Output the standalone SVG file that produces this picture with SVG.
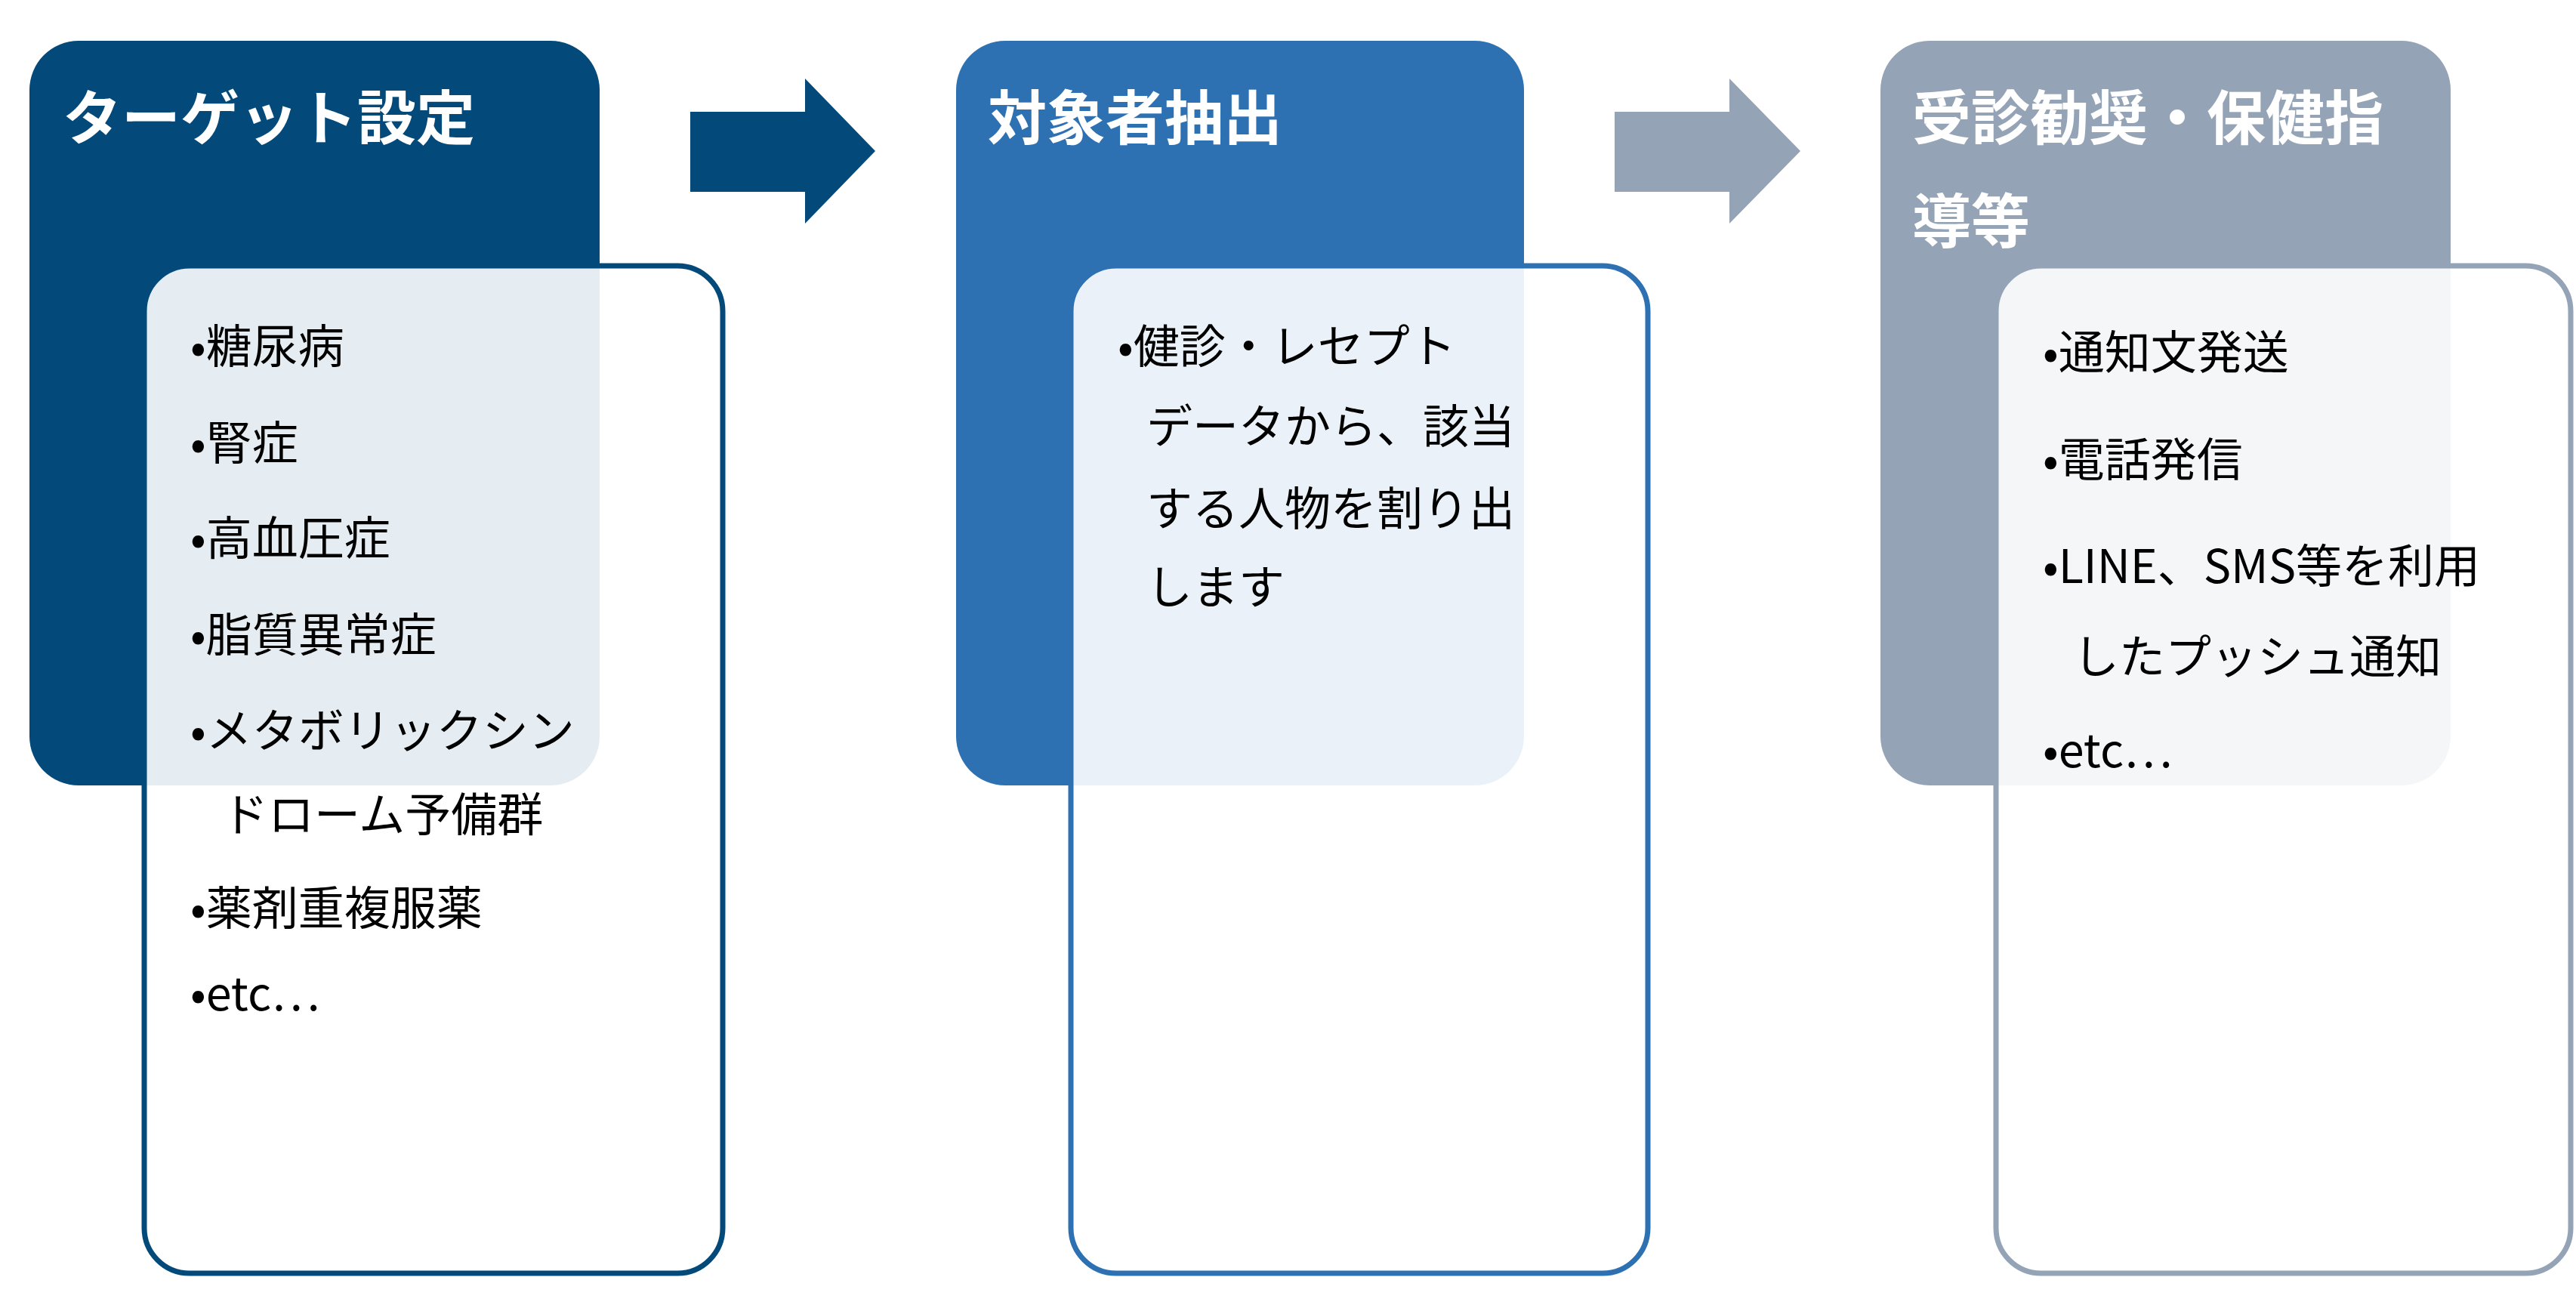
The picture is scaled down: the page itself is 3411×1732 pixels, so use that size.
<svg xmlns="http://www.w3.org/2000/svg" width="3411" height="1732" viewBox="0 0 3411 1732">
<style>
.t{font-family:"Noto Sans CJK JP",sans-serif;font-weight:bold;font-size:78px;fill:#fff}
.b{font-family:"Noto Sans CJK JP",sans-serif;font-size:61px;fill:#000}
.w{fill:#fff;fill-opacity:0.9;stroke-width:7}
</style>
<rect width="3411" height="1732" fill="#fff"/>
<g id="connectors">
<polygon points="914,148 1066,148 1066,104 1159,200 1066,296 1066,254 914,254" fill="#034a7a"/>
<polygon points="2138,148 2290,148 2290,104 2384,200 2290,296 2290,254 2138,254" fill="#94a3b5"/>
</g>
<g id="node1">
<rect x="39" y="54" width="755" height="986" rx="65" fill="#034a7a"/>
<text class="t" x="83" y="185">ターゲット設定</text>
<rect class="w" x="191" y="352" width="766" height="1334" rx="60" stroke="#034a7a"/>
<g class="b">
<text x="252" y="481">•糖尿病</text>
<text x="252" y="609">•腎症</text>
<text x="252" y="735">•高血圧症</text>
<text x="252" y="863">•脂質異常症</text>
<text x="252" y="990">•メタボリックシン</text>
<text x="294" y="1101">ドローム予備群</text>
<text x="252" y="1225">•薬剤重複服薬</text>
<text x="252" y="1338">•etc…</text>
</g>
</g>
<g id="node2">
<rect x="1266" y="54" width="752" height="986" rx="65" fill="#2e71b3"/>
<text class="t" x="1308" y="185">対象者抽出</text>
<rect class="w" x="1418" y="352" width="764" height="1334" rx="60" stroke="#2e71b3"/>
<g class="b">
<text x="1480" y="481">•健診・レセプト</text>
<text x="1518" y="587">データから、該当</text>
<text x="1518" y="696">する人物を割り出</text>
<text x="1518" y="800">します</text>
</g>
</g>
<g id="node3">
<rect x="2490" y="54" width="755" height="986" rx="65" fill="#94a3b5"/>
<text class="t" x="2532" y="185">受診勧奨・保健指</text>
<text class="t" x="2532" y="322">導等</text>
<rect class="w" x="2643" y="352" width="761" height="1334" rx="60" stroke="#94a3b5"/>
<g class="b">
<text x="2705" y="489">•通知文発送</text>
<text x="2705" y="631">•電話発信</text>
<text x="2705" y="772">•LINE、SMS等を利用</text>
<text x="2745" y="892">したプッシュ通知</text>
<text x="2705" y="1016">•etc…</text>
</g>
</g>
</svg>
